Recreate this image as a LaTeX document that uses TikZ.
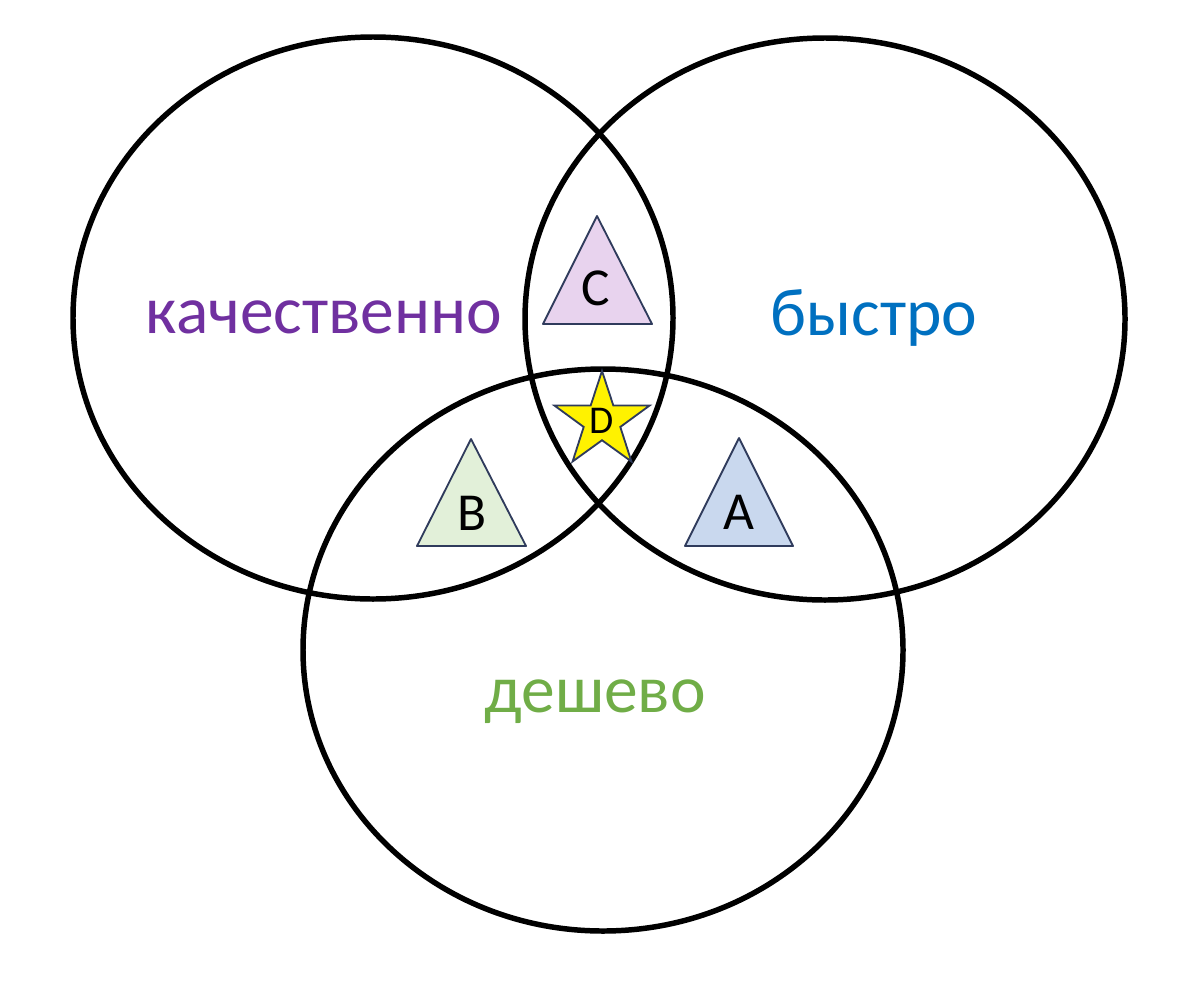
\documentclass[tikz,border=0pt]{standalone}
\usepackage{fontspec}
\setmainfont{Carlito}
\usetikzlibrary{shapes.geometric}

\definecolor{qualcol}{HTML}{7030A0}
\definecolor{fastcol}{HTML}{0070C0}
\definecolor{cheapcol}{HTML}{70AD47}
\definecolor{edgecol}{HTML}{2F3B5C}
\definecolor{fillA}{HTML}{C9D8EE}
\definecolor{fillB}{HTML}{E2F0D9}
\definecolor{fillC}{HTML}{E8D3EE}

\tikzset{
  ring/.style = {line width=3.9pt},
  tri/.style = {draw=edgecol, line width=1.3pt, line join=round},
  bigword/.style = {font=\fontsize{48}{57}\selectfont, anchor=base, inner sep=0pt},
  letter/.style = {font=\fontsize{38}{45}\selectfont, inner sep=0pt}
}

\begin{document}
\begin{tikzpicture}[x=0.025cm, y=-0.025cm]
    \useasboundingbox (0,0) rectangle (1200,986);
    % the three sets
    \draw[ring] (373,318) ellipse [x radius=300, y radius=281];
    \draw[ring] (825,319) ellipse [x radius=300, y radius=281];
    \draw[ring] (603,650) ellipse [x radius=300, y radius=281];
    \node[bigword, text=qualcol] (qual) at (324,333) {качественно};
    \node[bigword, text=fastcol] (fast) at (874,335) {быстро};
    \node[bigword, text=cheapcol] (cheap) at (595,712) {дешево};
    % pairwise overlaps
    \draw[tri, fill=fillC] (597,216) -- (543,324) -- (652,324) -- cycle;
    \node[letter] (labC) at (596,288) {C};
    \draw[tri, fill=fillB] (471,439) -- (417,546) -- (526,546) -- cycle;
    \node[letter] (labB) at (472,513) {B};
    \draw[tri, fill=fillA] (739,438) -- (685,546) -- (793,546) -- cycle;
    \node[letter] (labA) at (739,512) {A};
    % all three
    \node[star, star points=5, star point ratio=2.6, minimum size=2.5cm, inner sep=0pt,
          draw=edgecol, line width=1.3pt, fill=yellow,
          font=\fontsize{28}{33}\selectfont] (labD) at (602,421) {D};
\end{tikzpicture}
\end{document}
